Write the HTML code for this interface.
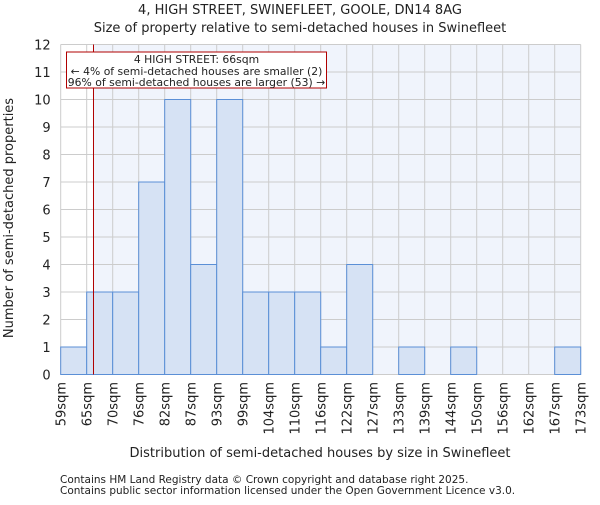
<!DOCTYPE html>
<html><head><meta charset="utf-8"><style>
body{margin:0;background:#fff;}
text{font-family:"DejaVu Sans","Liberation Sans",sans-serif;fill:#222;}
</style></head><body>
<svg id="chart" width="600" height="500"></svg>
<script>
const categories=["59sqm","65sqm","70sqm","76sqm","82sqm","87sqm","93sqm","99sqm","104sqm","110sqm","116sqm","122sqm","127sqm","133sqm","139sqm","144sqm","150sqm","156sqm","162sqm","167sqm","173sqm"];
const counts=[1,3,3,7,10,4,10,3,3,3,1,4,0,1,0,1,0,0,0,1];
const yTicks=[0,1,2,3,4,5,6,7,8,9,10,11,12];
const markerValue=66;
const binStart=59, binWidth=5.55;
const NS="http://www.w3.org/2000/svg";
const svg=document.getElementById('chart');
const L=60.7,R=580.7,T=44.5,B=374.5,yMax=12;
const bw=(R-L)/counts.length;
const x=i=>L+i*bw;
const y=v=>B-(v/yMax)*(B-T);
function mk(tag,attrs,parent){const e=document.createElementNS(NS,tag);for(const k in attrs)e.setAttribute(k,attrs[k]);(parent||svg).appendChild(e);return e;}
const xm=L+(markerValue-binStart)/binWidth*bw;
let e=mk('rect',{x:xm,y:T,width:R-xm,height:B-T,fill:'#f0f4fc'});


for(const t of yTicks){e=mk('line',{x1:L,x2:R,y1:y(t),y2:y(t),stroke:'#cccccc','stroke-width':1});

}
for(let i=0;i<=counts.length;i++){e=mk('line',{x1:x(i),x2:x(i),y1:T,y2:B,stroke:'#cccccc','stroke-width':1});

}
counts.forEach((c,i)=>{if(c<=0)return;e=mk('rect',{x:x(i),y:y(c),width:bw,height:B-y(c),fill:'#d6e2f4',stroke:'#5b8fd6','stroke-width':1});

});
for(const t of yTicks){e=mk('text',{x:L-10,y:y(t)+5,'text-anchor':'end','font-size':13});e.textContent=t;

}
categories.forEach((c,i)=>{e=mk('text',{transform:`translate(${x(i)+5},382) rotate(-90)`,'text-anchor':'end','font-size':13});e.textContent=c;

});
e=mk('line',{x1:xm,x2:xm,y1:T,y2:B,stroke:'#b00000','stroke-width':1});


const g=mk('g',{});


mk('rect',{x:66.5,y:52,width:260,height:36,fill:'#fff',stroke:'#b00000','stroke-width':1},g);
[["4 HIGH STREET: 66sqm",63],["← 4% of semi-detached houses are smaller (2)",75],["96% of semi-detached houses are larger (53) →",86]].forEach(([s,yy])=>{const t=mk('text',{x:196.5,y:yy,'text-anchor':'middle','font-size':10.8},g);t.textContent=s;});
e=mk('text',{x:300,y:14,'text-anchor':'middle','font-size':13});e.textContent="4, HIGH STREET, SWINEFLEET, GOOLE, DN14 8AG";


e=mk('text',{x:300,y:32,'text-anchor':'middle','font-size':13});e.textContent="Size of property relative to semi-detached houses in Swinefleet";


e=mk('text',{x:320,y:457,'text-anchor':'middle','font-size':13});e.textContent="Distribution of semi-detached houses by size in Swinefleet";


e=mk('text',{transform:'translate(13,218) rotate(-90)','text-anchor':'middle','font-size':13});e.textContent="Number of semi-detached properties";


e=mk('text',{x:60,y:483,'font-size':10.5,fill:'#444'});e.textContent="Contains HM Land Registry data © Crown copyright and database right 2025.";


e=mk('text',{x:60,y:494,'font-size':10.5,fill:'#444'});e.textContent="Contains public sector information licensed under the Open Government Licence v3.0.";


</script>
</body></html>
